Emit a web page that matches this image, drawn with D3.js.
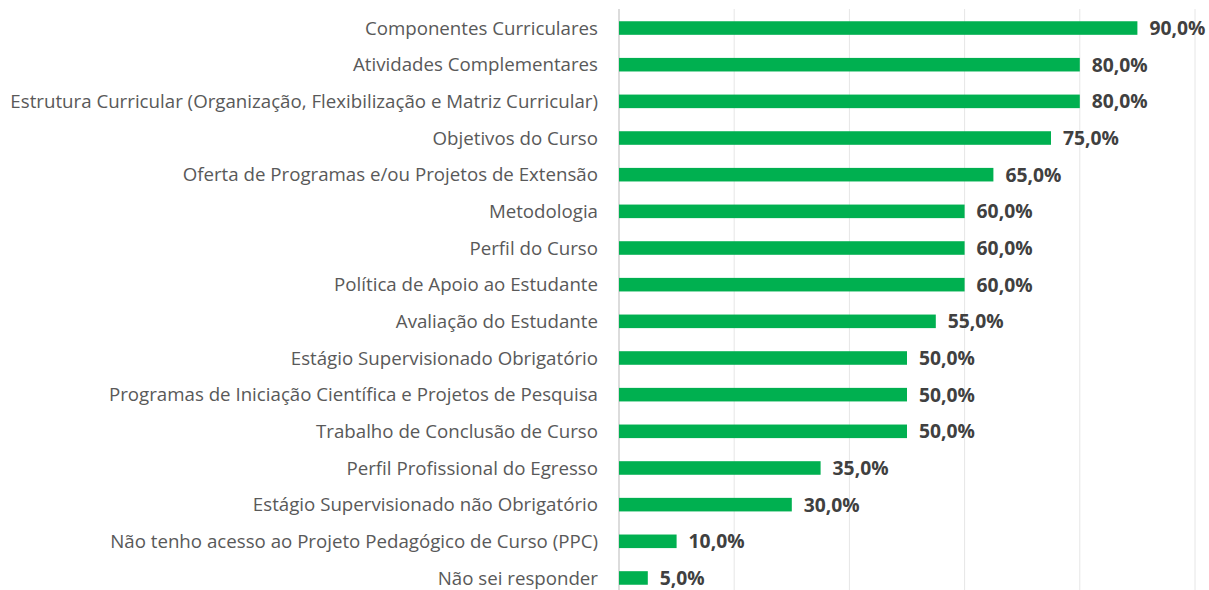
<!DOCTYPE html>
<html><head><meta charset="utf-8">
<script src="https://cdn.jsdelivr.net/npm/d3@7"></script>
<style>body{margin:0;background:#fff}svg{display:block}</style>
</head><body>
<script>
const categories = [
  "Componentes Curriculares",
  "Atividades Complementares",
  "Estrutura Curricular (Organização, Flexibilização e Matriz Curricular)",
  "Objetivos do Curso",
  "Oferta de Programas e/ou Projetos de Extensão",
  "Metodologia",
  "Perfil do Curso",
  "Política de Apoio ao Estudante",
  "Avaliação do Estudante",
  "Estágio Supervisionado Obrigatório",
  "Programas de Iniciação Científica e Projetos de Pesquisa",
  "Trabalho de Conclusão de Curso",
  "Perfil Profissional do Egresso",
  "Estágio Supervisionado não Obrigatório",
  "Não tenho acesso ao Projeto Pedagógico de Curso (PPC)",
  "Não sei responder"
];
const values = [90, 80, 80, 75, 65, 60, 60, 60, 55, 50, 50, 50, 35, 30, 10, 5];
const gridTicks = [0, 20, 40, 60, 80, 100];

const W = 1209, H = 590;
const svg = d3.select("body").append("svg").attr("width", W).attr("height", H);
const x = d3.scaleLinear().domain([0, 100]).range([619, 1195]);
const y = d3.scaleBand().domain(categories).range([9.7, 596.3]).paddingInner(0.63).paddingOuter(0.315);

svg.append("g").selectAll("line").data(gridTicks).join("line")
  .attr("x1", d => x(d)).attr("x2", d => x(d))
  .attr("y1", 9).attr("y2", H)
  .attr("stroke", d => d === 0 ? "#d0d0d0" : "#e6e6e6").attr("stroke-width", d => d === 0 ? 1.5 : 1);

svg.append("g").selectAll("rect").data(values).join("rect")
  .attr("x", x(0)).attr("y", (d, i) => y(categories[i]))
  .attr("width", d => x(d) - x(0)).attr("height", y.bandwidth())
  .attr("fill", "#00b050");

const font = "'Open Sans', Lato, sans-serif";
const labels = svg.append("g").selectAll("text").data(categories).join("text")
  .attr("x", 598).attr("y", d => y(d) + y.bandwidth() / 2)
  .attr("dy", "0.35em").attr("text-anchor", "end")
  .attr("font-family", font).attr("font-size", 16).attr("fill", "#595959")
  .text(d => d);
// fit longest label to reference width (588px)
const longest = labels.filter((d, i) => i === 2).node().getComputedTextLength();
labels.attr("font-size", 16 * 588 / longest);

const vals = svg.append("g").selectAll("text").data(values).join("text")
  .attr("x", d => x(d) + 12).attr("y", (d, i) => y(categories[i]) + y.bandwidth() / 2)
  .attr("dy", "0.37em")
  .attr("font-family", font).attr("font-size", 17).attr("font-weight", "bold").attr("fill", "#404040")
  .text(d => d.toFixed(1).replace(".", ",") + "%");
const vw = vals.filter((d, i) => i === 0).node().getComputedTextLength();
vals.attr("font-size", 17 * 56 / vw);
</script>
</body></html>
